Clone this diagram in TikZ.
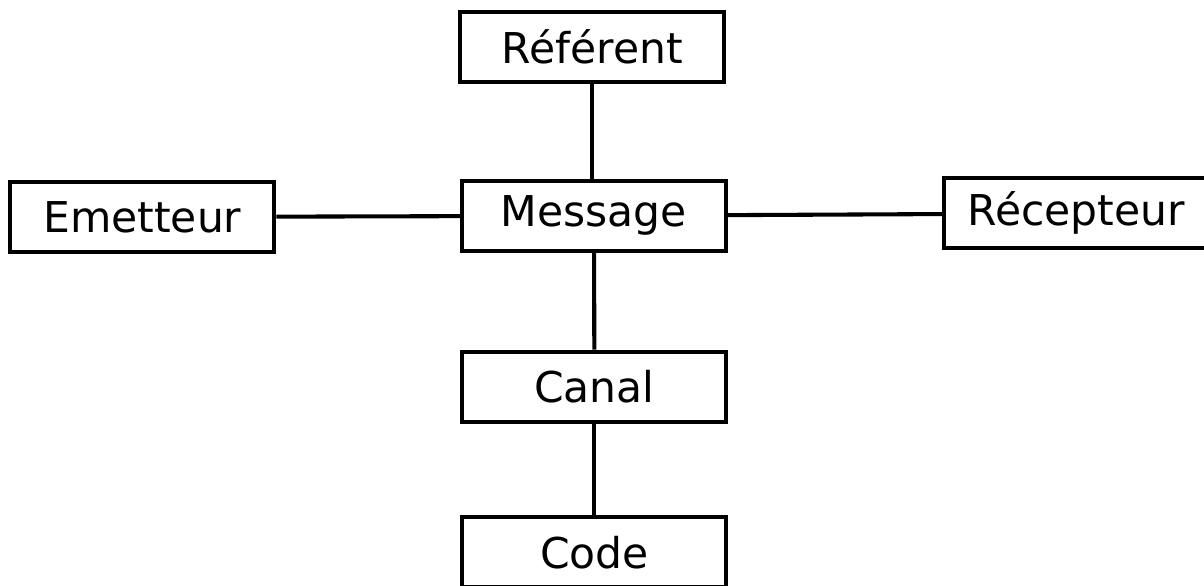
\documentclass[tikz,border=0pt]{standalone}
\usepackage{fontspec}
\setmainfont{DejaVu Sans}
\usetikzlibrary{positioning}

\tikzset{
  box/.style={draw, line width=2.9pt, minimum width=6.6cm, minimum height=1.75cm,
    inner sep=0pt, font=\fontsize{30.2}{36}\selectfont},
  link/.style={line width=2.9pt}
}

\begin{document}
\begin{tikzpicture}
    % Frame of the picture
    \useasboundingbox (0,0) rectangle (30.1,14.625);
    \clip (0,0) rectangle (30.1,14.625);

    % Boxes
    \node[box] (referent) at (14.81,13.45) {Référent};
    \node[box] (emetteur) at (3.56,9.2) {Emetteur};
    \node[box] (message) at (14.85,9.23) {Message};
    \node[box] (recepteur) at (26.9,9.29) {Récepteur};
    \node[box] (canal) at (14.86,4.96) {Canal};
    \node[box] (code) at (14.86,0.82) {Code};

    % Links
    \draw[link] (referent) -- (referent |- message.north);
    \draw[link] (emetteur) -- (message);
    \draw[link] (message) -- (recepteur);
    \draw[link] (message) -- (canal);
    \draw[link] (canal) -- (code);
\end{tikzpicture}
\end{document}
